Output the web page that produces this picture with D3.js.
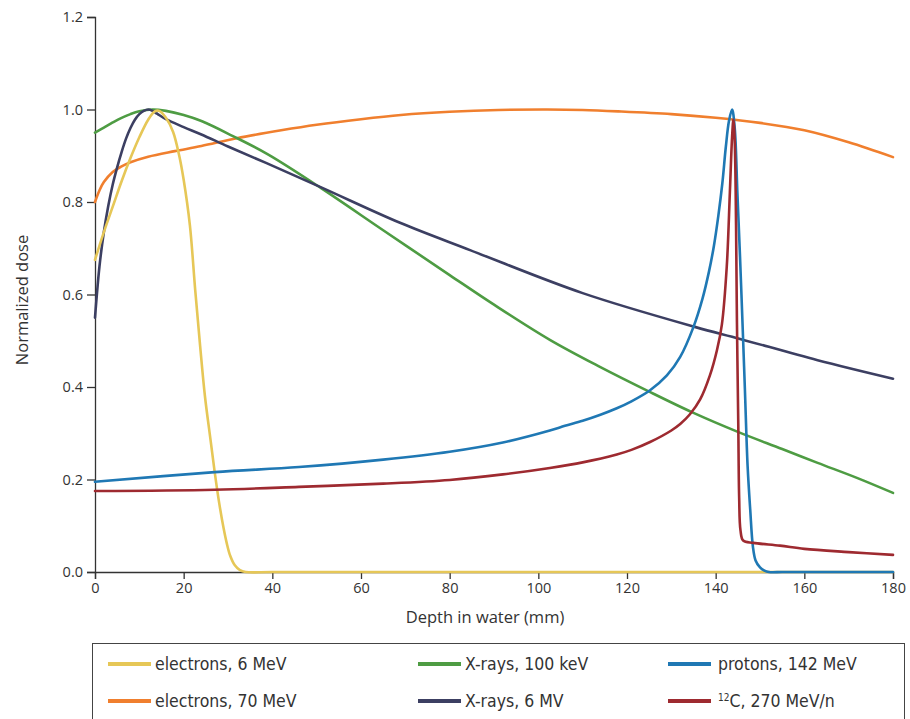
<!DOCTYPE html>
<html>
<head>
<meta charset="utf-8">
<script src="https://cdn.jsdelivr.net/npm/d3@7"></script>
<style>
  html, body { margin: 0; padding: 0; background: #fff; }
  svg { display: block; }
</style>
</head>
<body>
<svg id="chart" width="910" height="719"></svg>
<script>
// ---- Data (depth in mm, normalized dose) ----
const xTicks = [0, 20, 40, 60, 80, 100, 120, 140, 160, 180];
const yTicks = [0.0, 0.2, 0.4, 0.6, 0.8, 1.0, 1.2];

const electrons6 = [[0,0.675],[2,0.735],[4,0.79],[6,0.845],[8,0.895],[10,0.94],[12,0.978],[13.5,0.996],[14.5,0.997],[16,0.982],[17.6,0.952],[19,0.9],[20,0.848],[21.4,0.75],[22.6,0.61],[23.7,0.49],[24.8,0.38],[26,0.29],[27,0.216],[28,0.15],[29,0.095],[29.7,0.063],[30.5,0.035],[31.5,0.015],[32.7,0.004],[34,0],[40,0],[60,0],[90,0],[120,0],[150,0],[180,0]];

const electrons70 = [[0,0.80],[1,0.825],[2,0.843],[4,0.865],[6,0.877],[8,0.886],[12,0.898],[18,0.91],[24,0.921],[32,0.938],[42,0.955],[50,0.967],[60,0.979],[69,0.988],[80,0.995],[91,0.999],[102,1.0],[110,0.999],[118,0.996],[130,0.99],[140,0.982],[150,0.971],[160,0.955],[170,0.929],[180,0.897]];

const xrays100k = [[0,0.95],[2,0.961],[4,0.972],[6,0.982],[8,0.99],[10,0.996],[13,1.0],[16,0.997],[20,0.988],[24,0.975],[31,0.943],[39,0.903],[51,0.83],[65,0.739],[80,0.642],[90,0.578],[102.6,0.502],[114,0.443],[125,0.39],[135,0.344],[145,0.303],[155,0.266],[163,0.236],[172,0.203],[180,0.171]];

const xrays6M = [[0,0.55],[1,0.66],[2,0.735],[3,0.792],[4,0.838],[5,0.875],[6,0.908],[7,0.937],[8,0.96],[9,0.978],[10,0.99],[11,0.997],[12,1.0],[13,0.997],[14,0.991],[16,0.979],[20,0.962],[24,0.946],[30,0.92],[38.7,0.884],[51.4,0.83],[68.8,0.755],[84.6,0.696],[110,0.603],[135.3,0.53],[145.5,0.504],[163,0.458],[180,0.418]];

const protons142 = [[0,0.195],[27,0.216],[46,0.227],[65,0.243],[80,0.26],[92,0.28],[102.6,0.306],[106,0.316],[110,0.327],[114,0.34],[117.7,0.354],[121,0.369],[125.2,0.393],[129,0.425],[132,0.465],[135,0.53],[137,0.59],[138.5,0.65],[139.6,0.705],[140.6,0.77],[141.5,0.84],[142.3,0.92],[143,0.975],[143.7,1.0],[144.3,0.96],[144.9,0.82],[145.5,0.68],[146.2,0.5],[146.6,0.393],[147.2,0.23],[147.8,0.134],[148.4,0.055],[149,0.025],[150,0.01],[151,0.003],[152,0],[155,0],[160,0],[170,0],[180,0]];

const carbon270 = [[0,0.175],[27,0.178],[46,0.184],[65,0.191],[80,0.199],[92,0.211],[102.6,0.225],[110,0.237],[117.7,0.254],[121,0.264],[125.2,0.281],[130,0.306],[132,0.32],[134.2,0.341],[136.5,0.373],[138.7,0.425],[140.3,0.48],[141.4,0.535],[142.5,0.66],[143.2,0.82],[143.7,0.94],[144,0.978],[144.3,0.93],[144.6,0.75],[144.8,0.54],[145.1,0.32],[145.3,0.16],[145.6,0.09],[146.2,0.068],[148.5,0.063],[154.5,0.057],[160,0.05],[170,0.043],[180,0.037]];

const seriesNames = ["electrons, 6 MeV", "X-rays, 100 keV", "protons, 142 MeV", "electrons, 70 MeV", "X-rays, 6 MV", "12C, 270 MeV/n"];
const seriesColors = ["#e6c757", "#4e9c43", "#1f78b4", "#f07f2e", "#3c3f62", "#9e2a30"];

// ---- Drawing ----
const svg = d3.select("#chart");
const x = d3.scaleLinear().domain([0, 180]).range([95, 893]);
const y = d3.scaleLinear().domain([0, 1.2]).range([572, 17]);

const tickFont = "'Open Sans', 'DejaVu Sans', sans-serif";
const legendFont = "'Liberation Sans Narrow', 'DejaVu Sans Condensed', 'Open Sans', sans-serif";

// axes
const gx = svg.append("g").attr("transform", "translate(0,572)")
  .call(d3.axisBottom(x).tickValues(xTicks).tickFormat(d3.format("d")).tickSizeOuter(0).tickSize(7).tickPadding(4));
const gy = svg.append("g").attr("transform", "translate(95,0)")
  .call(d3.axisLeft(y).tickValues(yTicks).tickFormat(d3.format(".1f")).tickSizeOuter(0).tickSize(8).tickPadding(4));
[gx, gy].forEach(g => {
  g.select(".domain").attr("stroke", "#333").attr("stroke-width", 1.3);
  g.selectAll(".tick line").attr("stroke", "#333").attr("stroke-width", 1.3);
  g.selectAll(".tick text").attr("fill", "#333").style("font-family", tickFont).style("font-size", "14.5px");
});

svg.append("text")
  .attr("x", 485).attr("y", 623).attr("text-anchor", "middle")
  .style("font-family", tickFont).style("font-size", "16.5px").attr("fill", "#333")
  .text("Depth in water (mm)");
svg.append("text")
  .attr("transform", "translate(28,300) rotate(-90)").attr("text-anchor", "middle")
  .style("font-family", tickFont).style("font-size", "16.5px").attr("fill", "#333")
  .text("Normalized dose");

// lines
const line = d3.line().x(d => x(d[0])).y(d => y(d[1])).curve(d3.curveCatmullRom.alpha(0.5));
const drawOrder = [
  [electrons70, 3], [xrays100k, 1], [xrays6M, 4], [electrons6, 0], [protons142, 2], [carbon270, 5]
];
drawOrder.forEach(([data, i]) => {
  svg.append("path").datum(data)
    .attr("d", line)
    .attr("fill", "none")
    .attr("stroke", seriesColors[i])
    .attr("stroke-width", 2.6)
    .attr("stroke-linejoin", "round")
    .attr("stroke-linecap", "round");
});

// legend
svg.append("rect").attr("x", 92.5).attr("y", 643.5).attr("width", 812).attr("height", 90)
  .attr("fill", "none").attr("stroke", "#444").attr("stroke-width", 1);

const colX = [108, 418, 668];
const rowY = [664, 701];
seriesNames.forEach((name, i) => {
  const cx = colX[i % 3], cy = rowY[Math.floor(i / 3)];
  svg.append("line").attr("x1", cx).attr("x2", cx + 43).attr("y1", cy).attr("y2", cy)
    .attr("stroke", seriesColors[i]).attr("stroke-width", 4);
  const t = svg.append("text").attr("x", cx + (i % 3 === 2 ? 50 : 47)).attr("y", cy + 6)
    .style("font-family", legendFont).style("font-size", "17.5px").attr("fill", "#333");
  if (name.startsWith("12C")) {
    t.append("tspan").text("12").style("font-size", "10px").attr("dy", -6);
    t.append("tspan").text("C, 270 MeV/n").attr("dy", 6);
  } else {
    t.text(name);
  }
});
</script>
</body>
</html>
